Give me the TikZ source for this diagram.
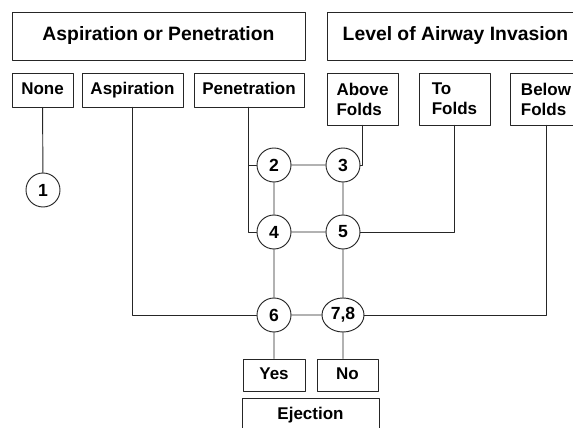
\documentclass[tikz,border=0pt]{standalone}
\usepackage{fontspec}
\setmainfont{Liberation Sans}
\usetikzlibrary{shapes.geometric}
\begin{document}
\begin{tikzpicture}[font=\bfseries\fontsize{14.5}{17}\selectfont, line join=round, line cap=round, xscale=.03, yscale=-.03,
	box/.style={draw=black!85, line width=.8pt, minimum height=1.02cm, inner sep=2pt},
	tag/.style={box, text height=.72em, text depth=0pt},
	fold/.style={box, align=left, minimum width=2.13cm, minimum height=1.56cm},
	num/.style={draw=black!85, line width=.8pt, circle, minimum size=1.02cm, inner sep=0pt, font=\bfseries\fontsize{15}{17}\selectfont},
	link/.style={draw=black!85, line width=.8pt}]
	\clip (0,0) rectangle (573,428);
	% headings
	\node[tag, minimum width=8.79cm, minimum height=1.44cm, font=\bfseries\fontsize{16.5}{19}\selectfont] (asppen) at (158.5,36) {Aspiration or Penetration};
	\node[tag, minimum width=7.71cm, minimum height=1.44cm, font=\bfseries\fontsize{16.5}{19}\selectfont] (level) at (455.5,36) {Level of Airway Invasion};
	% choices
	\node[tag, minimum width=1.83cm] (none) at (42.5,90) {None};
	\node[tag, minimum width=3.03cm] (asp) at (132.5,90) {Aspiration};
	\node[tag, minimum width=3.3cm] (pen) at (249,90) {Penetration};
	\foreach \n/\x/\t in {above/362.5/Above, tofolds/454.5/To, below/546/Below}
	\node[fold] (\n) at (\x,99) {\t\\Folds};
	% scores
	\foreach \n/\x/\y/\t in {c1/43/190/1, c2/274/165/2, c3/343/165/3, c4/274/232/4, c5/343/232/5, c6/274/315/6}
	\node[num] (\n) at (\x,\y) {\t};
	\node[num, ellipse, minimum width=1.26cm] (c78) at (343,315) {7,8};
	% ejection
	\node[tag, minimum width=1.86cm, minimum height=.96cm] (yes) at (274,375) {Yes};
	\node[tag, minimum width=1.83cm, minimum height=.96cm] (no) at (347.5,375) {No};
	\node[tag, minimum width=4.11cm] (eject) at (310.5,415) {Ejection};
	% links
	\draw[link] (none) -- (c1);
	\draw[link] (asp) |- (c6);
	\draw[link] ([xshift=-.21cm]pen.south) |- (c2);
	\draw[link] ([xshift=-.99cm]pen.south) |- (c4);
	\draw[link] ([xshift=.435cm]above.south) |- (c3);
	\draw[link] ([xshift=-.135cm]tofolds.south) |- (c5);
	\draw[link] (below) |- (c78);
	\draw[link] (c2) -- (c3) (c4) -- (c5) (c6) -- (c78);
	\draw[link] (c2) -- (c4) -- (c6) (c3) -- (c5) -- (c78);
	\draw[link] (c6) -- (yes);
	\draw[link] (c78) -- (c78 |- no.north);
\end{tikzpicture}
\end{document}
